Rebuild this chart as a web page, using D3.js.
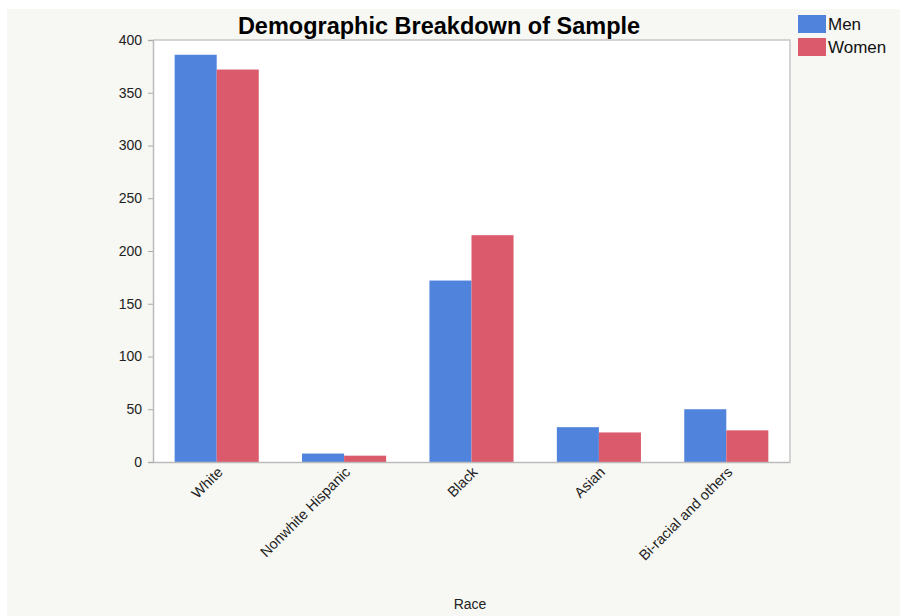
<!DOCTYPE html>
<html><head><meta charset="utf-8">
<script src="https://cdn.jsdelivr.net/npm/d3@7"></script>
<style>
html,body{margin:0;padding:0;background:#fff;}
svg{display:block;font-family:"Liberation Sans",Arial,Helvetica,sans-serif;}
</style></head>
<body>
<script>
const categories = ["White","Nonwhite Hispanic","Black","Asian","Bi-racial and others"];
const seriesNames = ["Men","Women"];
const menValues = [386, 8, 172, 33, 50];
const womenValues = [372, 6, 215, 28, 30];
const yTicks = [0,50,100,150,200,250,300,350,400];
const colors = ["#5083DC","#DB5A6B"];

const W=900,H=616;
const m={left:153,top:40,right:790,bottom:462};
const svg=d3.select("body").append("svg").attr("width",W).attr("height",H);
svg.append("rect").attr("x",7).attr("y",9).attr("width",W-7).attr("height",H-9).attr("fill","#f7f7f3");
svg.append("rect").attr("x",m.left).attr("y",m.top).attr("width",m.right-m.left).attr("height",m.bottom-m.top).attr("fill","#fff");

const x0=d3.scaleBand().domain(categories).range([m.left,m.right]).paddingInner(0.34).paddingOuter(0.17);
const x1=d3.scaleBand().domain(seriesNames).range([0,x0.bandwidth()]);
const y=d3.scaleLinear().domain([0,400]).range([m.bottom,m.top]);

const data=[menValues,womenValues];
seriesNames.forEach((s,si)=>{
  svg.append("g").selectAll("rect").data(categories).join("rect")
    .attr("x",c=>x0(c)+x1(s))
    .attr("y",(c,i)=>y(data[si][i]))
    .attr("width",x1.bandwidth())
    .attr("height",(c,i)=>y(0)-y(data[si][i]))
    .attr("fill",colors[si]);
});

// frame
svg.append("path").attr("d",`M${m.left},${m.top}H${m.right}V${m.bottom}`).attr("fill","none").attr("stroke","#c8c8c8").attr("stroke-width",1.5);

const ya=svg.append("g").attr("transform",`translate(${m.left},0)`)
  .call(d3.axisLeft(y).tickValues(yTicks).tickSize(5).tickPadding(6));
ya.select(".domain").attr("stroke","#bbb").attr("stroke-width",1.5);
ya.selectAll(".tick line").attr("stroke","#aaa");
ya.selectAll("text").attr("font-size",14).attr("fill","#222").attr("font-family","inherit");

const xa=svg.append("g").attr("transform",`translate(0,${m.bottom})`)
  .call(d3.axisBottom(x0).tickSize(0).tickPadding(0));
xa.select(".domain").attr("stroke","#bbb").attr("stroke-width",1.5);
xa.selectAll("text").attr("font-size",14.5).attr("fill","#222").attr("font-family","inherit")
  .attr("text-anchor","end").attr("dy",0)
  .attr("transform","translate(7,11) rotate(-45)");

svg.append("text").attr("x",439).attr("y",34).attr("text-anchor","middle")
  .attr("font-size",23.5).attr("font-weight","bold").attr("fill","#000").text("Demographic Breakdown of Sample");
svg.append("text").attr("x",470).attr("y",609).attr("text-anchor","middle")
  .attr("font-size",14).attr("fill","#222").text("Race");

const lg=svg.append("g");
seriesNames.forEach((s,i)=>{
  lg.append("rect").attr("x",798).attr("y",15+i*23).attr("width",28).attr("height",18).attr("fill",colors[i]);
  lg.append("text").attr("x",828).attr("y",30+i*23).attr("font-size",17).attr("fill","#111").text(s);
});
</script>
</body></html>
